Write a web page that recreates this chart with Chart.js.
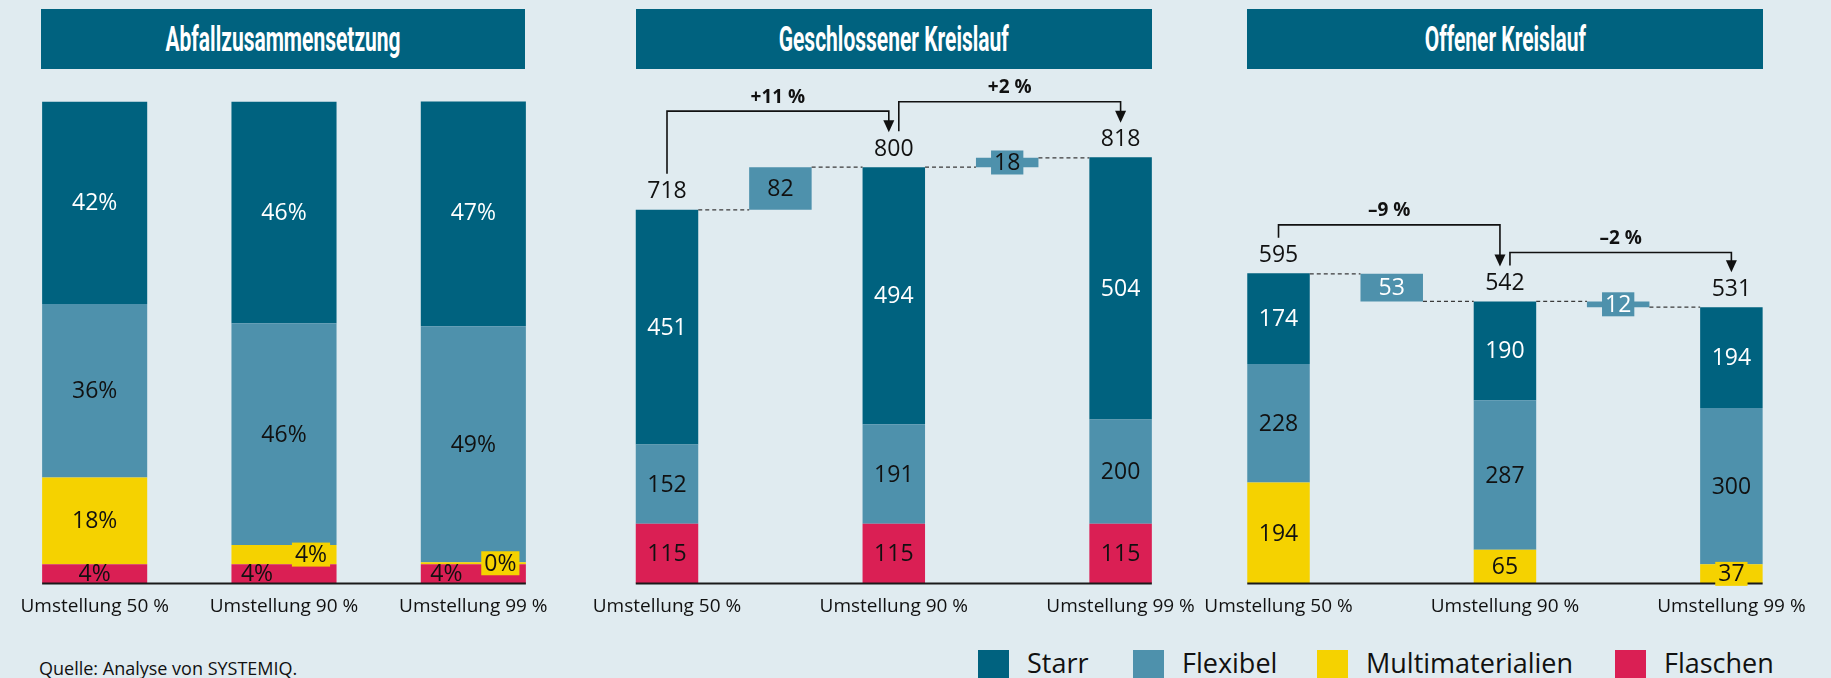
<!DOCTYPE html>
<html lang="de">
<head>
<meta charset="utf-8">
<script src="https://cdn.jsdelivr.net/npm/chart.js@4.4.0/dist/chart.umd.min.js"></script>
<style>
  body { margin: 0; width: 1831px; height: 678px; overflow: hidden; position: relative; background: #e0ebf0; font-family: 'Open Sans', sans-serif; }
  .title { position: absolute; top: 9px; height: 60px; background: #00627f; color: #fff; display: flex; align-items: center; justify-content: center; }
  .title span { display: inline-block; font-family: Roboto, sans-serif; font-weight: 700; font-size: 35px; transform: scaleX(0.6); white-space: nowrap; }
  canvas { position: absolute; top: 0; }
  .src { position: absolute; left: 39px; top: 659px; font-size: 18px; line-height: 18px; color: #111; }
  .lg-box { position: absolute; top: 650px; width: 31px; height: 31px; }
  .lg-txt { position: absolute; top: 649px; font-size: 27px; line-height: 27px; color: #111; }
</style>
</head>
<body>
<div class="title" style="left:41px;width:484px"><span>Abfallzusammensetzung</span></div>
<div class="title" style="left:636px;width:516px"><span>Geschlossener Kreislauf</span></div>
<div class="title" style="left:1247px;width:516px"><span>Offener Kreislauf</span></div>
<canvas id="mix" width="590" height="640" style="left:0px"></canvas>
<canvas id="closed" width="660" height="640" style="left:570px"></canvas>
<canvas id="open" width="651" height="640" style="left:1180px"></canvas>
<div class="src">Quelle: Analyse von SYSTEMIQ.</div>
<div id="legend"></div>
<script>
// categories
const cats = ['Umstellung 50 %', 'Umstellung 90 %', 'Umstellung 99 %'];
const series = ['Starr', 'Flexibel', 'Multimaterialien', 'Flaschen'];

// Abfallzusammensetzung (Anteile in %)
const mixFlaschen = [4, 4, 4];
const mixMulti = [18, 4, 0.4];
const mixFlexibel = [36, 46, 49];
const mixStarr = [42, 46, 47];

// Geschlossener Kreislauf
const gkFlaschen = [115, 115, 115];
const gkMulti = [0, 0, 0];
const gkFlexibel = [152, 191, 200];
const gkStarr = [451, 494, 504];
const gkTotal = [718, 800, 818];
const gkDelta = [82, 18];
const gkChange = ['+11 %', '+2 %'];

// Offener Kreislauf
const okFlaschen = [0, 0, 0];
const okMulti = [194, 65, 37];
const okFlexibel = [228, 287, 300];
const okStarr = [174, 190, 194];
const okTotal = [595, 542, 531];
const okDelta = [53, 12];
const okChange = ['–9 %', '–2 %'];

const COL = { Starr: '#00627f', Flexibel: '#4e91ac', Multimaterialien: '#f5d200', Flaschen: '#da1f54' };
const FONT = "'Open Sans', sans-serif";
const DARK = '#111';

// legend
const lgPos = [978, 1133, 1317, 1615];
series.forEach((s, i) => {
  const b = document.createElement('div');
  b.className = 'lg-box'; b.style.left = lgPos[i] + 'px'; b.style.background = COL[s];
  const t = document.createElement('div');
  t.className = 'lg-txt'; t.style.left = (lgPos[i] + 49) + 'px'; t.textContent = s;
  document.getElementById('legend').append(b, t);
});

const deco = {
  id: 'deco',
  afterDatasetsDraw(chart, args, o) {
    const ctx = chart.ctx;
    const xs = chart.scales.x, ys = chart.scales.y;
    const segs = [];
    let left = Infinity, right = -Infinity;
    chart.data.datasets.forEach((ds, di) => {
      chart.getDatasetMeta(di).data.forEach((el, i) => {
        const raw = ds.data[i];
        if (raw === null || raw === 0) return;
        const p = el.getProps(['x', 'y', 'base', 'width'], true);
        left = Math.min(left, p.x - p.width / 2);
        right = Math.max(right, p.x + p.width / 2);
        const h = Math.abs(p.base - p.y);
        segs.push({
          i, x: p.x, cy: (p.y + p.base) / 2, h,
          text: ds.labels ? ds.labels[i] : o.fmt(raw),
          color: ds.labelColor, bg: ds.backgroundColor,
          boxed: !!ds.boxSmall && h < 22
        });
      });
    });
    ctx.save();
    // baseline
    const y0 = ys.getPixelForValue(0);
    ctx.strokeStyle = '#1a1a1a';
    ctx.lineWidth = 2;
    ctx.beginPath(); ctx.moveTo(left, y0); ctx.lineTo(right, y0); ctx.stroke();

    // waterfall extras
    if (o.totals) {
      const w = chart.getDatasetMeta(3).data[0].width;
      const cx = i => xs.getPixelForValue(i);
      ctx.strokeStyle = '#3a3a3a';
      ctx.lineWidth = 1.2;
      ctx.setLineDash([4, 3]);
      for (let k = 0; k < o.totals.length - 1; k++) {
        const y1 = ys.getPixelForValue(o.totals[k]);
        const y2 = ys.getPixelForValue(o.totals[k + 1]);
        ctx.beginPath();
        ctx.moveTo(cx(2 * k) + w / 2, y1); ctx.lineTo(cx(2 * k + 1) - w / 2, y1);
        ctx.moveTo(cx(2 * k + 1) + w / 2, y2); ctx.lineTo(cx(2 * k + 2) - w / 2, y2);
        ctx.stroke();
      }
      ctx.setLineDash([]);
      ctx.fillStyle = DARK;
      ctx.font = '23px ' + FONT;
      ctx.textAlign = 'center';
      ctx.textBaseline = 'middle';
      o.totals.forEach((t, k) => ctx.fillText(String(t), cx(2 * k), ys.getPixelForValue(t) - 18));
      // brackets
      ctx.strokeStyle = DARK;
      ctx.lineWidth = 1.6;
      const n = o.totals.length - 1;
      for (let k = 0; k < n; k++) {
        const sx = cx(2 * k) + (k > 0 ? 5 : 0);
        const ex = cx(2 * k + 2) - (k < n - 1 ? 5 : 0);
        const sy = ys.getPixelForValue(o.totals[k]) - 36;
        const ty = ys.getPixelForValue(o.totals[k + 1]) - 35;
        const top = Math.min(sy, ty) - (o.gap || 18);
        ctx.beginPath();
        ctx.moveTo(sx, sy); ctx.lineTo(sx, top); ctx.lineTo(ex, top); ctx.lineTo(ex, ty - 11);
        ctx.stroke();
        ctx.beginPath();
        ctx.moveTo(ex - 5.5, ty - 12); ctx.lineTo(ex + 5.5, ty - 12); ctx.lineTo(ex, ty);
        ctx.closePath(); ctx.fill();
        ctx.font = 'bold 19px ' + FONT;
        ctx.fillText(o.changes[k], (sx + ex) / 2, top - 14);
      }
    }

    // segment labels
    const crowd = o.crowd || 0;
    if (crowd) {
      for (let i = 0; i < chart.data.labels.length; i++) {
        const small = segs.filter(s => s.i === i && s.h < 24);
        if (small.length > 1) small.forEach(s => { s.x += s.boxed ? crowd : -crowd; });
      }
    }
    ctx.font = '23px ' + FONT;
    ctx.textAlign = 'center';
    ctx.textBaseline = 'middle';
    segs.forEach(s => {
      if (s.boxed) {
        const tw = ctx.measureText(s.text).width + 6;
        ctx.fillStyle = s.bg;
        ctx.fillRect(s.x - tw / 2, s.cy - 12, tw, 24);
      }
      ctx.fillStyle = s.color;
      ctx.fillText(s.text, s.x, s.cy + 1);
    });
    ctx.restore();
  }
};

function spread(v) { return [v[0], null, v[1], null, v[2]]; }

function stackSets(fl, mu, fx, st, map) {
  return [
    { label: 'Flaschen', data: map(fl), backgroundColor: COL.Flaschen, labelColor: DARK },
    { label: 'Multimaterialien', data: map(mu), backgroundColor: COL.Multimaterialien, labelColor: DARK, boxSmall: true },
    { label: 'Flexibel', data: map(fx), backgroundColor: COL.Flexibel, labelColor: DARK },
    { label: 'Starr', data: map(st), backgroundColor: COL.Starr, labelColor: '#fff' }
  ].map(d => Object.assign(d, { stack: 'main' }));
}

function deltaSet(tot, delta, color) {
  const data = [null, null, null, null, null];
  const labels = [null, null, null, null, null];
  delta.forEach((d, k) => {
    data[2 * k + 1] = [tot[k], tot[k + 1]];
    labels[2 * k + 1] = String(d);
  });
  return { label: 'Delta', data, labels, stack: 'delta', backgroundColor: COL.Flexibel, labelColor: color, boxSmall: true };
}

function makeChart(id, labels, datasets, yMax, pad, barPct, decoOpts) {
  return new Chart(document.getElementById(id), {
    type: 'bar',
    data: { labels, datasets },
    options: {
      responsive: false,
      animation: false,
      layout: { padding: pad },
      datasets: { bar: { grouped: false, categoryPercentage: 1, barPercentage: barPct } },
      plugins: { legend: { display: false }, tooltip: { enabled: false }, deco: decoOpts },
      scales: {
        x: {
          grid: { display: false, drawTicks: false },
          border: { display: false },
          ticks: { autoSkip: false, maxRotation: 0, padding: 12, color: DARK, font: { family: FONT, size: 19 } },
          afterFit(scale) { scale.height = 40; }
        },
        y: { display: false, stacked: true, min: 0, max: yMax }
      }
    },
    plugins: [deco]
  });
}

const cats5 = spread(cats).map(c => c || '');

makeChart('mix', cats, stackSets(mixFlaschen, mixMulti, mixFlexibel, mixStarr, v => v), 100,
  { top: 101.6, bottom: 16.5, left: 0, right: 22 }, 0.555,
  { fmt: v => Math.round(v) + '%', crowd: 27 });

makeChart('closed', cats5,
  stackSets(gkFlaschen, gkMulti, gkFlexibel, gkStarr, spread).concat([deltaSet(gkTotal, gkDelta, DARK)]), 926,
  { top: 101.6, bottom: 16.5, left: 40.3, right: 52.7 }, 0.551,
  { fmt: v => String(v), totals: gkTotal, changes: gkChange, gap: 21 });

makeChart('open', cats5,
  stackSets(okFlaschen, okMulti, okFlexibel, okStarr, spread).concat([deltaSet(okTotal, okDelta, '#fff')]), 926,
  { top: 101.6, bottom: 16.5, left: 41.9, right: 43 }, 0.552,
  { fmt: v => String(v), totals: okTotal, changes: okChange, gap: 13 });
</script>
</body>
</html>
